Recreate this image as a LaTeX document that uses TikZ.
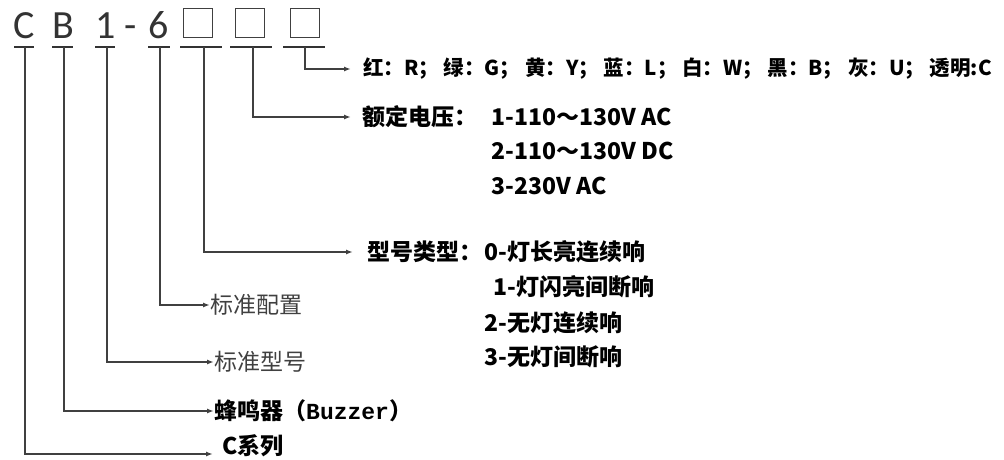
\documentclass[tikz,border=0pt]{standalone}
\usepackage{fontspec}
\setmainfont{Carlito}
\newfontfamily\cjk{Noto Sans CJK SC}
\newfontfamily\mono{Liberation Mono}
\usetikzlibrary{arrows.meta,positioning}

\begin{document}
\begin{tikzpicture}[x=1pt,y=-1pt,
    code/.style={anchor=base, inner sep=0pt, text=black!80, font=\fontsize{40}{40}\selectfont},
    slot/.style={draw=black!75, line width=1.4pt, minimum size=29pt, inner sep=0pt},
    bar/.style={draw=black!80, line width=2.2pt},
    lead/.style={draw=black!75, line width=1.4pt, -{Latex[length=7pt,width=5pt]}},
    cn/.style={anchor=west, inner sep=0pt, text=black!75, font=\cjk\fontsize{23}{23}\selectfont},
    cnb/.style={anchor=west, inner sep=0pt, font=\cjk\bfseries\fontsize{23}{23}\selectfont}]
  \useasboundingbox (0,0) rectangle (1004,459);

  \node[code] (c) at (24,38) {C};
  \node[code] (b) at (63,38) {B};
  \node[code] (one) at (106,38) {1};
  \node[code] (dash) at (131,38) {-};
  \node[code] (six) at (159,38) {6};
  \node[slot] (s1) at (198,23) {};
  \node[slot] (s2) at (250,23) {};
  \node[slot] (s3) at (305,23) {};

  \coordinate (cu) at (25,47);
  \coordinate (bu) at (64,47);
  \coordinate (oneu) at (107,47);
  \coordinate (sixu) at (160,47);
  \coordinate (s1u) at (204,47);
  \coordinate (s2u) at (253,47);
  \coordinate (s3u) at (305,47);
  \draw[bar] ([xshift=-11pt]cu) -- ([xshift=9pt]cu);
  \draw[bar] ([xshift=-12pt]bu) -- ([xshift=9pt]bu);
  \draw[bar] ([xshift=-12pt]oneu) -- ([xshift=8pt]oneu);
  \draw[bar] ([xshift=-12pt]sixu) -- ([xshift=10pt]sixu);
  \draw[bar] ([xshift=-24pt]s1u) -- ([xshift=18pt]s1u);
  \draw[bar] ([xshift=-23pt]s2u) -- ([xshift=19pt]s2u);
  \draw[bar] ([xshift=-22pt]s3u) -- ([xshift=20pt]s3u);

  \node[cnb, font=\cjk\bfseries\fontsize{20.5}{21}\selectfont] (colour) at (351,69)
    {\hspace{12pt}红：R； 绿：G； 黄：Y； 蓝：L； 白：W； 黑：B； 灰：U； 透明:C};
  \node[cnb] (volt) at (351,117) {\hspace{11pt}额定电压：};
  \node[cnb, right=14pt of volt] (v1) {1-110～130V AC};
  \node[cnb] (v2) at ([yshift=-34pt]v1.west) {2-110～130V DC};
  \node[cnb] (v3) at ([yshift=-69pt]v1.west) {3-230V AC};
  \node[cnb] (kind) at (353,252) {\hspace{14pt}型号类型：};
  \node[cnb, right=2pt of kind] (k0) {0-灯长亮连续响};
  \node[cnb] (k1) at ([xshift=9pt,yshift=-35pt]k0.west) {1-灯闪亮间断响};
  \node[cnb] (k2) at ([yshift=-71pt]k0.west) {2-无灯连续响};
  \node[cnb] (k3) at ([yshift=-105pt]k0.west) {3-无灯间断响};
  \node[cn] (conf) at (210,305) {标准配置};
  \node[cn] (std) at (214,362) {标准型号};
  \node[cnb] (buzz) at (214,411) {蜂鸣器（{\mono\bfseries Buzzer}）};
  \node[cnb] (ser) at (213,446) {\hspace{9pt}C系列};

  \draw[lead] (s3u) |- (colour);
  \draw[lead] (s2u) |- (volt);
  \draw[lead] (s1u) |- (kind);
  \draw[lead] (sixu) |- (conf);
  \draw[lead] (oneu) |- (std);
  \draw[lead] (bu) |- (buzz);
  \draw[lead] (cu) |- ([yshift=-8pt]ser.west);
\end{tikzpicture}
\end{document}
